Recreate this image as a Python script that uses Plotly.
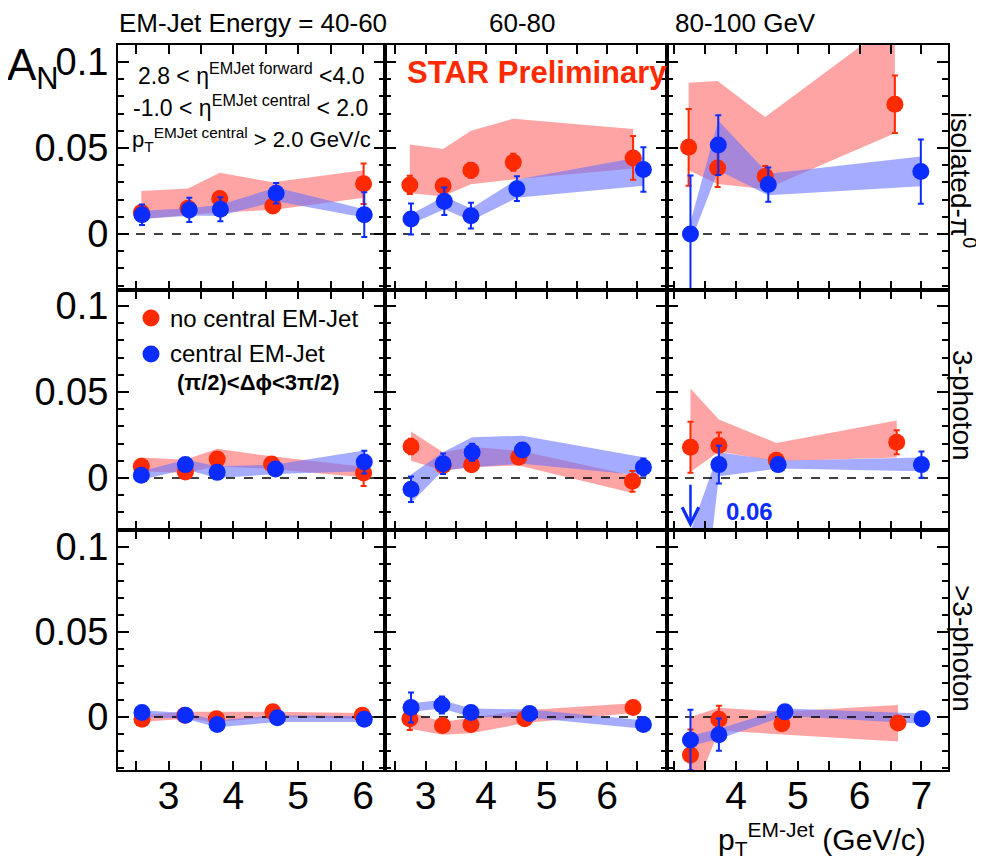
import plotly.graph_objects as go
from plotly.subplots import make_subplots

# ---------------- data (A_N vs pT) ----------------
col_titles = ["EM-Jet Energy = 40-60", "60-80", "80-100 GeV"]
row_titles = ["isolated-π<sup>0</sup>", "3-photon", "&gt;3-photon"]

# ---- row 1 : isolated-pi0 ----
r11_x = [2.58, 3.30, 3.79, 4.61, 6.01]
r11_y = [0.0125, 0.0150, 0.0206, 0.0163, 0.0292]
r11_e = [0.004, 0.004, 0.004, 0.004, 0.0118]
r11_hi = [0.025, 0.0265, 0.0356, 0.030, 0.037]
r11_lo = [0.0087, 0.011, 0.0125, 0.014, 0.021]
b11_x = [2.59, 3.32, 3.80, 4.66, 6.02]
b11_y = [0.0112, 0.0140, 0.0144, 0.0237, 0.0112]
b11_e = [0.006, 0.007, 0.007, 0.006, 0.013]
b11_hi = [0.0135, 0.015, 0.017, 0.027, 0.0144]
b11_lo = [0.0087, 0.0106, 0.0106, 0.019, 0.0096]

r12_x = [2.74, 3.29, 3.75, 4.45, 6.43]
r12_y = [0.0285, 0.0280, 0.0370, 0.0417, 0.0442]
r12_e = [0.0053, 0.004, 0.0043, 0.005, 0.0127]
r12_hi = [0.052, 0.0494, 0.060, 0.067, 0.061]
r12_lo = [0.0237, 0.022, 0.0289, 0.0317, 0.038]
b12_x = [2.76, 3.31, 3.75, 4.51, 6.60]
b12_y = [0.0087, 0.0190, 0.0106, 0.0263, 0.0375]
b12_e = [0.009, 0.008, 0.0075, 0.0072, 0.013]
b12_hi = [0.0115, 0.022, 0.0148, 0.0317, 0.045]
b12_lo = [0.0058, 0.0144, 0.0077, 0.021, 0.028]

r13_x = [3.23, 3.70, 4.47, 6.57]
r13_y = [0.0504, 0.0383, 0.0335, 0.0754]
r13_e = [0.0223, 0.0110, 0.006, 0.0167]
r13_hi = [0.088, 0.089, 0.068, 0.124]
r13_lo = [0.037, 0.029, 0.026, 0.0585]
b13_x = [3.26, 3.71, 4.52, 6.99]
b13_y = [0.0, 0.0517, 0.0287, 0.0363]
b13_e = [0.034, 0.0174, 0.0099, 0.0187]
b13_hi = [0.007, 0.066, 0.035, 0.045]
b13_lo = [-0.005, 0.037, 0.0225, 0.0277]

# ---- row 2 : 3-photon ----
r21_x = [2.58, 3.26, 3.75, 4.59, 6.01]
r21_y = [0.0068, 0.0035, 0.0110, 0.0082, 0.0029]
r21_e = [0.003, 0.003, 0.003, 0.003, 0.0075]
r21_hi = [0.012, 0.0107, 0.017, 0.0126, 0.0065]
r21_lo = [0.004, 0.003, 0.0068, 0.0053, 0.0005]
b21_x = [2.58, 3.26, 3.75, 4.65, 6.02]
b21_y = [0.0016, 0.0078, 0.0033, 0.0053, 0.0093]
b21_e = [0.003, 0.003, 0.003, 0.003, 0.0066]
b21_hi = [0.0039, 0.0107, 0.0068, 0.0078, 0.016]
b21_lo = [-0.001, 0.0049, 0.0, 0.0023, 0.0039]

r22_x = [2.76, 3.29, 3.76, 4.54, 6.42]
r22_y = [0.0183, 0.0073, 0.0077, 0.0121, -0.0019]
r22_e = [0.0045, 0.003, 0.003, 0.003, 0.006]
r22_hi = [0.027, 0.015, 0.018, 0.016, 0.0015]
r22_lo = [0.010, 0.0044, 0.0063, 0.0073, -0.0087]
b22_x = [2.76, 3.29, 3.77, 4.60, 6.60]
b22_y = [-0.0065, 0.0083, 0.0150, 0.0163, 0.0063]
b22_e = [0.0074, 0.006, 0.005, 0.003, 0.005]
b22_hi = [0.0021, 0.015, 0.0237, 0.0246, 0.0121]
b22_lo = [-0.0144, 0.0044, 0.0063, 0.0083, 0.0015]

r23_x = [3.26, 3.72, 4.65, 6.60]
r23_y = [0.0179, 0.0189, 0.0103, 0.0208]
r23_e = [0.0148, 0.0075, 0.003, 0.007]
r23_hi = [0.052, 0.034, 0.0204, 0.0335]
r23_lo = [0.0035, 0.0155, 0.0097, 0.012]
b23_x = [3.26, 3.72, 4.68, 7.00]
b23_y = [-0.060, 0.0078, 0.0078, 0.0078]   # first point off scale (label 0.06)
b23_e = [0.0, 0.011, 0.003, 0.0076]
b23_hi = [-0.031, 0.015, 0.010, 0.012]
b23_lo = [-0.142, 0.001, 0.0055, 0.004]

# ---- row 3 : >3-photon ----
r31_x = [2.59, 3.25, 3.74, 4.61, 5.99]
r31_y = [-0.0014, 0.001, -0.001, 0.003, 0.001]
r31_e = [0.002, 0.002, 0.002, 0.002, 0.002]
r31_hi = [0.001, 0.003, 0.003, 0.003, 0.0024]
r31_lo = [-0.003, -0.001, -0.003, 0.0, -0.001]
b31_x = [2.59, 3.26, 3.75, 4.68, 6.02]
b31_y = [0.0026, 0.001, -0.0044, -0.0004, -0.0014]
b31_e = [0.002, 0.002, 0.002, 0.002, 0.002]
b31_hi = [0.004, 0.0024, -0.002, 0.001, 0.0004]
b31_lo = [0.0, -0.001, -0.006, -0.003, -0.003]

r32_x = [2.74, 3.28, 3.75, 4.64, 6.43]
r32_y = [-0.001, -0.005, -0.0044, -0.001, 0.0056]
r32_e = [0.0066, 0.002, 0.002, 0.002, 0.002]
r32_hi = [0.003, -0.003, -0.0004, 0.004, 0.008]
r32_lo = [-0.007, -0.0104, -0.0096, -0.0036, 0.0024]
b32_x = [2.76, 3.27, 3.75, 4.72, 6.60]
b32_y = [0.0056, 0.007, 0.0026, 0.002, -0.0044]
b32_e = [0.0088, 0.005, 0.002, 0.002, 0.002]
b32_hi = [0.008, 0.010, 0.005, 0.0044, -0.002]
b32_lo = [0.003, 0.005, 0.0, -0.0004, -0.007]

r33_x = [3.26, 3.72, 4.74, 6.62]
r33_y = [-0.0224, -0.0014, -0.004, -0.0036]
r33_e = [0.015, 0.008, 0.002, 0.002]
r33_hi = [0.0, 0.0054, 0.003, 0.007]
r33_lo = [-0.050, -0.008, -0.010, -0.0144]
b33_x = [3.26, 3.72, 4.79, 7.01]
b33_y = [-0.0136, -0.0104, 0.003, -0.001]
b33_e = [0.0178, 0.0095, 0.002, 0.002]
b33_hi = [-0.011, -0.007, 0.005, 0.002]
b33_lo = [-0.017, -0.013, 0.0006, -0.004]

# axis ranges / tick labels
x_ranges = [[2.22, 6.34], [2.33, 6.99], [2.88, 7.43]]
x_tickvals = [[3, 4, 5, 6], [3, 4, 5, 6], [4, 5, 6, 7]]
y_ranges = [[-0.0326, 0.1099], [-0.0302, 0.1093], [-0.0312, 0.110]]
y_tickvals = [0, 0.05, 0.1]
y_ticktext = ["0", "0.05", "0.1"]

RED = "#ff2a00"
BLUE = "#0a2cff"
RED_BAND = "rgba(255,90,90,0.55)"
BLUE_BAND = "rgba(100,112,255,0.58)"
FONT = "Liberation Sans, Arial, Helvetica, sans-serif"

panels = {
    (1, 1): (r11_x, r11_y, r11_e, r11_hi, r11_lo, b11_x, b11_y, b11_e, b11_hi, b11_lo),
    (1, 2): (r12_x, r12_y, r12_e, r12_hi, r12_lo, b12_x, b12_y, b12_e, b12_hi, b12_lo),
    (1, 3): (r13_x, r13_y, r13_e, r13_hi, r13_lo, b13_x, b13_y, b13_e, b13_hi, b13_lo),
    (2, 1): (r21_x, r21_y, r21_e, r21_hi, r21_lo, b21_x, b21_y, b21_e, b21_hi, b21_lo),
    (2, 2): (r22_x, r22_y, r22_e, r22_hi, r22_lo, b22_x, b22_y, b22_e, b22_hi, b22_lo),
    (2, 3): (r23_x, r23_y, r23_e, r23_hi, r23_lo, b23_x, b23_y, b23_e, b23_hi, b23_lo),
    (3, 1): (r31_x, r31_y, r31_e, r31_hi, r31_lo, b31_x, b31_y, b31_e, b31_hi, b31_lo),
    (3, 2): (r32_x, r32_y, r32_e, r32_hi, r32_lo, b32_x, b32_y, b32_e, b32_hi, b32_lo),
    (3, 3): (r33_x, r33_y, r33_e, r33_hi, r33_lo, b33_x, b33_y, b33_e, b33_hi, b33_lo),
}

# ---------------- figure ----------------
OFF = 8                      # page body margin of the html page
W, H = 984 - OFF, 859 - OFF
ML, MT = 118 - OFF, 45 - OFF
PW, PH = 830, 725
MR, MB = W - ML - PW, H - MT - PH

fig = make_subplots(rows=3, cols=3, horizontal_spacing=0, vertical_spacing=0)

col_px = [(118, 385), (385, 667), (667, 948)]
row_px = [(45, 290), (290, 530), (530, 770)]


def px_x(px):
    return (px - OFF - ML) / PW


def px_y(py):
    return (H - MB - (py - OFF)) / PH


def band(x, hi, lo, color):
    return go.Scatter(x=list(x) + list(x)[::-1], y=list(hi) + list(lo)[::-1],
                      fill="toself", fillcolor=color, mode="lines",
                      line=dict(width=0), hoverinfo="skip", showlegend=False)


def points(x, y, e, color):
    return go.Scatter(x=x, y=y, mode="markers",
                      marker=dict(size=17, color=color, line=dict(width=0)),
                      error_y=dict(type="data", array=e, color=color, thickness=2, width=3),
                      showlegend=False)


for (r, c), d in panels.items():
    rx, ry, re_, rhi, rlo, bx, by, be, bhi, blo = d
    fig.add_trace(band(rx, rhi, rlo, RED_BAND), row=r, col=c)
    fig.add_trace(band(bx, bhi, blo, BLUE_BAND), row=r, col=c)
    xr = x_ranges[c - 1]
    fig.add_trace(go.Scatter(x=xr, y=[0, 0], mode="lines",
                             line=dict(color="black", width=1.5, dash="dash"),
                             hoverinfo="skip", showlegend=False), row=r, col=c)
    fig.add_trace(points(rx, ry, re_, RED), row=r, col=c)
    fig.add_trace(points(bx, by, be, BLUE), row=r, col=c)

    x0, x1 = col_px[c - 1]
    y0, y1 = row_px[r - 1]
    fig.update_xaxes(row=r, col=c, domain=[px_x(x0), px_x(x1)], range=xr,
                     tickmode="array", tickvals=x_tickvals[c - 1],
                     showticklabels=(r == 3), ticks="inside", ticklen=9, tickwidth=1.5,
                     tickcolor="black", ticklabelstandoff=-10,
                     minor=dict(tickmode="linear", tick0=0, dtick=0.5, ticks="inside",
                                ticklen=9, tickwidth=1.5, tickcolor="black"),
                     showline=True, linewidth=2, linecolor="black", mirror="ticks",
                     showgrid=False, zeroline=False,
                     tickfont=dict(size=39, family=FONT, color="black"))
    fig.update_yaxes(row=r, col=c, domain=[px_y(y1), px_y(y0)], range=y_ranges[r - 1],
                     tickmode="array", tickvals=y_tickvals, ticktext=y_ticktext,
                     showticklabels=(c == 1), ticks="inside", ticklen=11, tickwidth=1.5,
                     tickcolor="black",
                     minor=dict(tickmode="linear", tick0=0, dtick=0.01, ticks="inside",
                                ticklen=6, tickwidth=1.5, tickcolor="black"),
                     showline=True, linewidth=2, linecolor="black", mirror="ticks",
                     showgrid=False, zeroline=False,
                     tickfont=dict(size=38, family=FONT, color="black"))

ann = []


def text(px, py, s, size, xanchor="center", color="black", angle=0):
    ann.append(dict(x=px_x(px), y=px_y(py), xref="paper", yref="paper", text=s,
                    showarrow=False, xanchor=xanchor, yanchor="middle", textangle=angle,
                    font=dict(size=size, family=FONT, color=color)))


# column titles
text(253, 23, col_titles[0], 26)
text(522, 23, col_titles[1], 26)
text(745, 23, col_titles[2], 26)
# y-axis title
text(33, 68, "A<sub>N</sub>", 44)
# x-axis title
text(822, 839, "p<sub>T</sub><sup>EM-Jet</sup> (GeV/c)", 30)
# row labels (rotated)
text(963, 180, row_titles[0], 28, angle=90)
text(963, 405, row_titles[1], 28, angle=90)
text(963, 648, row_titles[2], 28, angle=90)
# kinematic cuts
text(136, 74, "2.8 &lt; η<sup>EMJet forward</sup> &lt;4.0", 23, xanchor="left")
text(131, 106, "-1.0 &lt; η<sup>EMJet central</sup> &lt; 2.0", 23, xanchor="left")
text(130, 139, "p<sub>T</sub><sup>EMJet central</sup> &gt; 2.0 GeV/c", 22, xanchor="left")
# STAR Preliminary
text(405, 72, "<b>STAR Preliminary</b>", 31, xanchor="left", color=RED)
# legend
text(168, 318, "no central EM-Jet", 24, xanchor="left")
text(168, 353, "central EM-Jet", 24, xanchor="left")
text(175, 383, "<b>(π/2)&lt;Δϕ&lt;3π/2)</b>", 22, xanchor="left")

shapes = []
for (py, col) in [(318, RED), (354, BLUE)]:
    shapes.append(dict(type="circle", xref="paper", yref="paper",
                       x0=px_x(151 - 8.5), x1=px_x(151 + 8.5),
                       y0=px_y(py + 8.5), y1=px_y(py - 8.5),
                       fillcolor=col, line=dict(width=0)))

# off-scale arrow for the first blue point in the 3-photon / 80-100 GeV panel
yr = y_ranges[1]
ann.append(dict(x=b23_x[0], y=yr[0] + 0.0015, xref="x6", yref="y6",
                ax=b23_x[0], ay=-0.003, axref="x6", ayref="y6",
                showarrow=True, arrowhead=5, arrowsize=1.3, arrowwidth=2.5,
                arrowcolor=BLUE, text=""))
ann.append(dict(x=b23_x[0], y=-0.0195, xref="x6", yref="y6", xshift=34,
                text="<b>%.2f</b>" % abs(b23_y[0]), showarrow=False,
                xanchor="left", yanchor="middle",
                font=dict(size=24, family=FONT, color=BLUE)))

fig.update_layout(width=W, height=H, margin=dict(l=ML, r=MR, t=MT, b=MB),
                  paper_bgcolor="white", plot_bgcolor="white",
                  annotations=ann, shapes=shapes, showlegend=False,
                  font=dict(family=FONT, color="black"))

fig.write_html("out.html")
